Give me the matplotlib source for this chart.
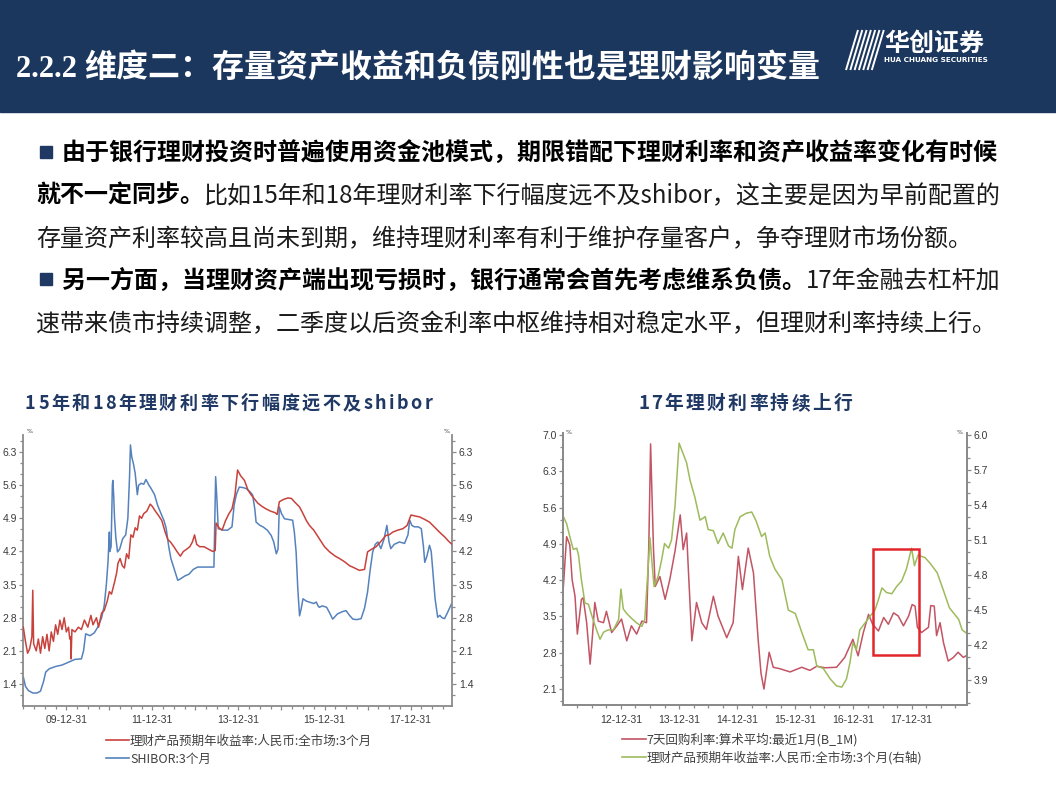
import matplotlib
matplotlib.use('Agg')
import matplotlib.pyplot as plt
from matplotlib.ticker import MultipleLocator
from matplotlib.patches import Rectangle

# ---------------- data ----------------
# left chart: decimal years
L_RED_T = [2009.00, 2009.05, 2009.10, 2009.15, 2009.20, 2009.22, 2009.24, 2009.30, 2009.35, 2009.40,
           2009.45, 2009.50, 2009.55, 2009.60, 2009.65, 2009.70, 2009.75, 2009.80, 2009.85, 2009.90,
           2009.95, 2010.00, 2010.05, 2010.08, 2010.10, 2010.11, 2010.13, 2010.20, 2010.28, 2010.35,
           2010.42, 2010.50, 2010.57, 2010.62, 2010.70, 2010.75, 2010.82, 2010.88, 2010.95, 2011.00,
           2011.05, 2011.12, 2011.17, 2011.20, 2011.25, 2011.30, 2011.35, 2011.40, 2011.45, 2011.50,
           2011.55, 2011.60, 2011.65, 2011.70, 2011.75, 2011.80, 2011.87, 2011.95, 2012.00, 2012.07,
           2012.15, 2012.22, 2012.30, 2012.36, 2012.42, 2012.50, 2012.57, 2012.65, 2012.72, 2012.80,
           2012.87, 2012.93, 2012.98, 2013.03, 2013.10, 2013.20, 2013.30, 2013.40, 2013.46, 2013.48,
           2013.55, 2013.62, 2013.70, 2013.78, 2013.85, 2013.92, 2013.98, 2014.05, 2014.14, 2014.22,
           2014.30, 2014.38, 2014.45, 2014.55, 2014.64, 2014.75, 2014.85, 2014.90, 2014.95, 2015.05,
           2015.15, 2015.23, 2015.30, 2015.42, 2015.50, 2015.58, 2015.65, 2015.75, 2015.88, 2016.00,
           2016.12, 2016.25, 2016.35, 2016.47, 2016.58, 2016.70, 2016.81, 2016.93, 2017.00, 2017.10,
           2017.20, 2017.30, 2017.43, 2017.50, 2017.59, 2017.70, 2017.82, 2017.92, 2018.01, 2018.10,
           2018.21, 2018.32, 2018.44, 2018.55, 2018.67, 2018.80, 2018.88, 2018.95]
L_RED_V = [2.60, 2.30, 2.05, 2.15, 2.40, 3.38, 2.25, 2.10, 2.35, 2.05,
           2.40, 2.15, 2.45, 2.10, 2.50, 2.30, 2.65, 2.45, 2.75, 2.55,
           2.80, 2.50, 2.60, 2.35, 2.40, 1.93, 2.55, 2.50, 2.60, 2.55,
           2.75, 2.60, 2.85, 2.65, 2.80, 2.60, 2.90, 2.95, 3.15, 3.35,
           3.30, 3.55, 3.75, 3.95, 4.05, 3.90, 3.85, 4.15, 4.05, 4.55,
           4.50, 4.70, 4.65, 4.95, 4.90, 5.00, 5.05, 5.20, 5.15, 5.05,
           4.95, 4.85, 4.60, 4.45, 4.40, 4.30, 4.20, 4.10, 4.20, 4.25,
           4.30, 4.40, 4.55, 4.35, 4.30, 4.30, 4.25, 4.20, 4.22, 4.80,
           4.70, 4.65, 4.85, 5.00, 5.10, 5.40, 5.92, 5.80, 5.70, 5.50,
           5.39, 5.30, 5.22, 5.15, 5.10, 5.05, 5.02, 4.98, 5.25, 5.30,
           5.33, 5.32, 5.25, 5.14, 5.00, 4.85, 4.75, 4.65, 4.47, 4.30,
           4.19, 4.10, 4.05, 3.98, 3.90, 3.85, 3.80, 3.82, 4.19, 4.25,
           4.30, 4.40, 4.54, 4.55, 4.61, 4.65, 4.68, 4.75, 4.97, 4.95,
           4.93, 4.88, 4.82, 4.72, 4.61, 4.50, 4.42, 4.36]

L_BLUE_T = [2009.00, 2009.05, 2009.12, 2009.22, 2009.32, 2009.40, 2009.47, 2009.52, 2009.60, 2009.75,
            2009.90, 2010.05, 2010.20, 2010.35, 2010.40, 2010.45, 2010.55, 2010.65, 2010.73, 2010.82,
            2010.88, 2010.93, 2010.97, 2011.00, 2011.01, 2011.04, 2011.07, 2011.08, 2011.10, 2011.12,
            2011.15, 2011.19, 2011.24, 2011.31, 2011.38, 2011.43, 2011.47, 2011.49, 2011.52, 2011.56,
            2011.60, 2011.65, 2011.68, 2011.74, 2011.80, 2011.85, 2011.92, 2011.97, 2012.05, 2012.12,
            2012.20, 2012.27, 2012.32, 2012.38, 2012.43, 2012.50, 2012.59, 2012.65, 2012.75, 2012.85,
            2012.95, 2013.05, 2013.43, 2013.45, 2013.47, 2013.50, 2013.53, 2013.65, 2013.75, 2013.85,
            2013.90, 2013.95, 2014.02, 2014.10, 2014.18, 2014.28, 2014.33, 2014.38, 2014.41, 2014.50,
            2014.57, 2014.67, 2014.76, 2014.82, 2014.88, 2014.92, 2014.95, 2015.00, 2015.07, 2015.20,
            2015.26, 2015.30, 2015.34, 2015.38, 2015.42, 2015.46, 2015.50, 2015.58, 2015.65, 2015.75,
            2015.81, 2015.85, 2015.88, 2015.95, 2016.05, 2016.12, 2016.19, 2016.30, 2016.42, 2016.50,
            2016.58, 2016.66, 2016.75, 2016.85, 2016.93, 2017.00, 2017.06, 2017.12, 2017.18, 2017.24,
            2017.31, 2017.38, 2017.45, 2017.50, 2017.54, 2017.62, 2017.74, 2017.86, 2017.94, 2017.98,
            2018.03, 2018.09, 2018.18, 2018.25, 2018.30, 2018.33, 2018.38, 2018.44, 2018.48, 2018.52,
            2018.57, 2018.63, 2018.68, 2018.73, 2018.79, 2018.88, 2018.95]
L_BLUE_V = [1.55, 1.35, 1.26, 1.21, 1.21, 1.25, 1.45, 1.65, 1.72, 1.77,
            1.80, 1.86, 1.92, 1.93, 2.10, 2.46, 2.42, 2.48, 2.60, 2.80,
            3.05, 3.50, 4.00, 4.61, 4.20, 4.30, 5.60, 5.70, 5.40, 4.90,
            4.50, 4.19, 4.25, 4.47, 4.55, 4.90, 5.80, 6.45, 6.20, 6.05,
            5.85, 5.40, 5.60, 5.64, 5.62, 5.72, 5.60, 5.53, 5.40, 5.18,
            5.00, 4.85, 4.69, 4.30, 4.05, 3.85, 3.59, 3.62, 3.68, 3.72,
            3.82, 3.87, 3.87, 4.80, 5.78, 5.30, 4.68, 4.65, 4.65, 4.72,
            5.18, 5.40, 5.56, 5.55, 5.53, 5.45, 5.39, 5.10, 4.82, 4.75,
            4.72, 4.65, 4.54, 4.40, 4.15, 4.25, 5.14, 5.00, 4.89, 4.87,
            4.86, 4.60, 4.19, 3.40, 2.84, 3.00, 3.20, 3.15, 3.13, 3.10,
            3.13, 3.05, 3.02, 3.05, 3.02, 2.90, 2.77, 2.88, 2.93, 2.95,
            2.85, 2.77, 2.76, 2.78, 3.00, 3.34, 3.80, 4.19, 4.35, 4.40,
            4.26, 4.45, 4.75, 4.40, 4.26, 4.35, 4.40, 4.37, 4.55, 4.86,
            4.75, 4.72, 4.72, 4.68, 4.30, 3.97, 4.10, 4.33, 4.20, 3.76,
            3.20, 2.81, 2.85, 2.80, 2.78, 2.95, 3.09]

# right chart
R_RED_T = [2012.01, 2012.065, 2012.12, 2012.16, 2012.21, 2012.25, 2012.32, 2012.35, 2012.41, 2012.47,
           2012.51, 2012.55, 2012.61, 2012.70, 2012.75, 2012.84, 2012.93, 2013.01, 2013.10, 2013.18,
           2013.27, 2013.36, 2013.44, 2013.48, 2013.51, 2013.56, 2013.59, 2013.67, 2013.76, 2013.84,
           2013.93, 2014.02, 2014.07, 2014.13, 2014.16, 2014.22, 2014.30, 2014.39, 2014.47, 2014.59,
           2014.67, 2014.82, 2014.93, 2015.02, 2015.09, 2015.19, 2015.28, 2015.36, 2015.41, 2015.46,
           2015.55, 2015.62, 2015.74, 2015.91, 2016.11, 2016.25, 2016.37, 2016.51, 2016.71, 2016.85,
           2016.99, 2017.08, 2017.17, 2017.26, 2017.33, 2017.43, 2017.52, 2017.60, 2017.69, 2017.77,
           2017.86, 2017.95, 2018.01, 2018.06, 2018.10, 2018.17, 2018.29, 2018.33, 2018.39, 2018.43,
           2018.49, 2018.55, 2018.63, 2018.72, 2018.80, 2018.89, 2018.95]
R_RED_V = [4.08, 5.04, 4.88, 4.21, 3.89, 3.16, 3.83, 3.86, 3.38, 2.58,
           3.13, 3.77, 3.41, 3.38, 3.60, 3.19, 3.32, 3.45, 3.03, 3.32,
           3.16, 3.41, 3.38, 4.90, 6.83, 4.79, 4.08, 4.27, 3.83, 4.21,
           4.76, 5.46, 4.79, 5.11, 4.40, 3.03, 3.77, 3.38, 3.25, 3.89,
           3.51, 3.09, 3.38, 4.66, 4.02, 4.82, 4.34, 3.06, 2.40, 2.10,
           2.81, 2.52, 2.49, 2.43, 2.52, 2.46, 2.54, 2.51, 2.52, 2.71,
           3.06, 2.74, 3.19, 3.54, 3.35, 3.22, 3.48, 3.35, 3.57, 3.51,
           3.32, 3.51, 3.73, 3.70, 3.29, 3.19, 3.29, 3.71, 3.70, 3.13,
           3.38, 2.99, 2.64, 2.71, 2.81, 2.71, 2.75]

R_GREEN_T = [2012.01, 2012.065, 2012.12, 2012.18, 2012.24, 2012.27, 2012.32, 2012.38, 2012.44, 2012.50,
             2012.58, 2012.64, 2012.70, 2012.78, 2012.87, 2012.96, 2013.00, 2013.04, 2013.10, 2013.18,
             2013.27, 2013.36, 2013.41, 2013.50, 2013.54, 2013.57, 2013.64, 2013.70, 2013.75, 2013.82,
             2013.87, 2013.93, 2014.00, 2014.07, 2014.13, 2014.19, 2014.27, 2014.36, 2014.45, 2014.50,
             2014.59, 2014.67, 2014.76, 2014.85, 2014.91, 2014.96, 2015.05, 2015.16, 2015.25, 2015.32,
             2015.42, 2015.48, 2015.56, 2015.65, 2015.77, 2015.88, 2016.00, 2016.11, 2016.22, 2016.31,
             2016.37, 2016.48, 2016.60, 2016.71, 2016.80, 2016.88, 2016.94, 2016.99, 2017.05, 2017.11,
             2017.20, 2017.29, 2017.37, 2017.43, 2017.49, 2017.57, 2017.66, 2017.74, 2017.83, 2017.91,
             2018.00, 2018.05, 2018.11, 2018.23, 2018.32, 2018.44, 2018.54, 2018.65, 2018.73, 2018.81,
             2018.87, 2018.95]
R_GREEN_V = [5.30, 5.24, 5.13, 5.02, 5.03, 4.97, 4.76, 4.56, 4.55, 4.45,
             4.33, 4.25, 4.31, 4.33, 4.33, 4.42, 4.68, 4.51, 4.47, 4.43,
             4.39, 4.36, 4.42, 5.12, 4.87, 4.70, 4.79, 4.93, 5.07, 5.03,
             5.10, 5.39, 5.93, 5.84, 5.76, 5.61, 5.47, 5.27, 5.30, 5.19,
             5.18, 5.07, 5.16, 5.05, 5.03, 5.19, 5.30, 5.33, 5.34, 5.27,
             5.13, 5.16, 4.96, 4.85, 4.76, 4.50, 4.47, 4.31, 4.16, 4.16,
             4.02, 4.00, 3.91, 3.85, 3.84, 3.91, 4.05, 4.22, 4.16, 4.33,
             4.39, 4.45, 4.50, 4.59, 4.69, 4.65, 4.64, 4.70, 4.75, 4.85,
             5.03, 4.88, 4.97, 4.95, 4.90, 4.82, 4.68, 4.52, 4.47, 4.42,
             4.33, 4.30]

# highlight box (x from, x to, right-axis y from, y to)
BOX_T = [2017.33, 2018.12]
BOX_V = [4.115, 5.02]

L_YTICKS = [1.4, 2.1, 2.8, 3.5, 4.2, 4.9, 5.6, 6.3]
L_XTICKS = [2010, 2011, 2012, 2013, 2014, 2015, 2016, 2017, 2018]
L_XLABELS = ['09-12-31', '', '11-12-31', '', '13-12-31', '', '15-12-31', '', '17-12-31']
R_YTICKS = [2.1, 2.8, 3.5, 4.2, 4.9, 5.6, 6.3, 7.0]
R_Y2TICKS = [3.9, 4.2, 4.5, 4.8, 5.1, 5.4, 5.7, 6.0]
R_XTICKS = [2013, 2014, 2015, 2016, 2017, 2018]
R_XLABELS = ['12-12-31', '13-12-31', '14-12-31', '15-12-31', '16-12-31', '17-12-31']

TITLE_NUM = '2.2.2 '
TITLE_TXT = '维度二：存量资产收益和负债刚性也是理财影响变量'
L_TITLE = '15年和18年理财利率下行幅度远不及shibor'
R_TITLE = '17年理财利率持续上行'
L_LEG = ['理财产品预期年收益率:人民币:全市场:3个月', 'SHIBOR:3个月']
R_LEG = ['7天回购利率:算术平均:最近1月(B_1M)', '理财产品预期年收益率:人民币:全市场:3个月(右轴)']

# ---------------- figure ----------------
W, H = 1056, 792
CJK = ['Noto Sans CJK SC', 'DejaVu Sans']
plt.rcParams['font.family'] = CJK

NAVY = '#1c375e'
C_LRED = '#c8423c'
C_LBLUE = '#5582bd'
C_RRED = '#c25463'
C_GREEN = '#9dbb5c'
SPINE = '#8a8a8a'

fig = plt.figure(figsize=(W / 100, H / 100), dpi=100)
bg = fig.add_axes([0, 0, 1, 1])
bg.set_xlim(0, W)
bg.set_ylim(H, 0)
bg.axis('off')
renderer = fig.canvas.get_renderer()

bg.add_patch(Rectangle((0, 0), W, 112, color=NAVY, zorder=0))


def seq(x, y, pieces, track=0.0):
    for s, weight, color, fam, size in pieces:
        chunks = list(s) if track else [s]
        for ch in chunks:
            t = bg.text(x, y, ch, fontsize=size, fontweight=weight, color=color,
                        family=fam, va='baseline', ha='left')
            x += t.get_window_extent(renderer).width + track
    return x


def fit(x0, x1, y, pieces):
    n = sum(len(p[0]) for p in pieces)
    nat = 0
    for s, weight, color, fam, size in pieces:
        for ch in s:
            t = bg.text(0, 0, ch, fontsize=size, fontweight=weight, family=fam)
            nat += t.get_window_extent(renderer).width
            t.remove()
    track = (x1 - x0 - nat) / max(n - 1, 1)
    seq(x0, y, pieces, track=track)


# title
seq(16, 77, [(TITLE_NUM, 'bold', 'white', ['Liberation Serif'], 22),
             (TITLE_TXT, 'bold', 'white', CJK, 23)])

# logo
for i in range(7):
    x0 = 846 + i * 4.3
    bg.plot([x0, x0 + 12], [70, 30], color='white', lw=1.4, solid_capstyle='butt')
bg.text(884, 51, '华创证券', fontsize=18, fontweight='bold', color='white', family=CJK, va='baseline')
bg.text(884, 61.5, 'HUA CHUANG SECURITIES', fontsize=5.2, fontweight='bold', color='white',
        family=['DejaVu Sans'], va='baseline')

# body text
BS = 17.3
BLK = '#000000'
TXT = '#1a1a1a'
for yc in (152, 279):
    bg.add_patch(Rectangle((40, yc - 6), 12, 12, color='#1f3864'))
seq(62, 161, [('由于银行理财投资时普遍使用资金池模式，期限错配下理财利率和资产收益率变化有时候', 'bold', BLK, CJK, BS)])
seq(36, 203, [('就不一定同步。', 'bold', BLK, CJK, BS),
              ('比如15年和18年理财利率下行幅度远不及shibor，这主要是因为早前配置的', 'normal', TXT, CJK, BS)])
seq(36, 246, [('存量资产利率较高且尚未到期，维持理财利率有利于维护存量客户，争夺理财市场份额。', 'normal', TXT, CJK, BS)])
seq(62, 288, [('另一方面，当理财资产端出现亏损时，银行通常会首先考虑维系负债。', 'bold', BLK, CJK, BS),
              ('17年金融去杠杆加', 'normal', TXT, CJK, BS)])
seq(36, 331, [('速带来债市持续调整，二季度以后资金利率中枢维持相对稳定水平，但理财利率持续上行。', 'normal', TXT, CJK, BS)])

# chart titles
fit(25, 432, 409, [(L_TITLE, 'bold', '#1f3864', CJK, 13)])
fit(638, 852, 409, [(R_TITLE, 'bold', '#1f3864', CJK, 13.5)])


def style(ax):
    for s in ['left', 'bottom', 'right']:
        ax.spines[s].set_color(SPINE)
        ax.spines[s].set_linewidth(1.3)
    ax.spines['top'].set_visible(False)
    ax.tick_params(which='both', direction='out', color=SPINE, width=0.9,
                   labelsize=7.5, labelcolor='#3a3a3a')
    ax.tick_params(which='major', length=3.2, pad=1.5)
    ax.tick_params(which='minor', length=2.0)
    for lab in ax.get_xticklabels() + ax.get_yticklabels():
        lab.set_family(['Liberation Sans'])
    ax.set_facecolor('none')


# ---- left chart ----
ax1 = fig.add_axes([23.3 / W, 1 - 706 / H, 429 / W, 271 / H])
ax1.plot(L_RED_T, L_RED_V, color=C_LRED, lw=1.1, zorder=3)
ax1.plot(L_BLUE_T, L_BLUE_V, color=C_LBLUE, lw=1.1, zorder=2)
ax1.set_xlim(2009.0, 2018.97)
ax1.set_ylim(0.935, 6.66)
ax1.set_yticks(L_YTICKS)
ax1.set_yticklabels([f'{v:.1f}' for v in L_YTICKS])
ax1.yaxis.set_minor_locator(MultipleLocator(0.7 / 3))
ax1.set_xticks(L_XTICKS)
ax1.set_xticklabels(L_XLABELS)
ax1.xaxis.set_minor_locator(MultipleLocator(0.25))
ax1.tick_params(axis='y', which='both', left=True, right=True, labelleft=True, labelright=True)
style(ax1)
ax1.tick_params(axis='x', which='major', pad=3)
bg.text(27, 433, '%', fontsize=4.5, color='#3a3a3a', family=['DejaVu Sans'])
bg.text(444, 433, '%', fontsize=4.5, color='#3a3a3a', family=['DejaVu Sans'])

# ---- right chart ----
ax2 = fig.add_axes([563.4 / W, 1 - 705.3 / H, 403.4 / W, 272.3 / H])
ax2.plot(R_RED_T, R_RED_V, color=C_RRED, lw=1.1, zorder=2)
ax2.set_xlim(2012.01, 2018.95)
ax2.set_ylim(1.786, 7.04)
ax2.set_yticks(R_YTICKS)
ax2.set_yticklabels([f'{v:.1f}' for v in R_YTICKS])
ax2.yaxis.set_minor_locator(MultipleLocator(0.7 / 3))
ax2.set_xticks(R_XTICKS)
ax2.set_xticklabels(R_XLABELS)
ax2.xaxis.set_minor_locator(MultipleLocator(0.25))
ax2.tick_params(axis='y', which='both', right=False)
style(ax2)
ax2.tick_params(axis='x', which='major', pad=3.5)

ax2r = ax2.twinx()
ax2r.plot(R_GREEN_T, R_GREEN_V, color=C_GREEN, lw=1.1)
ax2r.set_ylim(3.684, 6.017)
ax2r.set_yticks(R_Y2TICKS)
ax2r.set_yticklabels([f'{v:.1f}' for v in R_Y2TICKS])
ax2r.yaxis.set_minor_locator(MultipleLocator(0.1))
style(ax2r)
ax2r.add_patch(Rectangle((BOX_T[0], BOX_V[0]), BOX_T[1] - BOX_T[0], BOX_V[1] - BOX_V[0],
                         fill=False, edgecolor='#e3262b', lw=1.8, zorder=5))
bg.text(566, 434, '%', fontsize=4.5, color='#3a3a3a', family=['DejaVu Sans'])
bg.text(957, 434, '%', fontsize=4.5, color='#3a3a3a', family=['DejaVu Sans'])

# legends
LS = 9
bg.plot([106, 129], [740, 740], color=C_LRED, lw=1.2)
bg.plot([106, 129], [758, 758], color=C_LBLUE, lw=1.2)
bg.text(130, 744.5, L_LEG[0], fontsize=LS, color='#404040', family=CJK, va='baseline')
bg.text(130, 762.5, L_LEG[1], fontsize=LS, color='#404040', family=CJK, va='baseline')
bg.plot([622, 646], [739, 739], color=C_RRED, lw=1.2)
bg.plot([622, 646], [757, 757], color=C_GREEN, lw=1.2)
bg.text(646.5, 743.5, R_LEG[0], fontsize=LS, color='#404040', family=CJK, va='baseline')
bg.text(646.5, 761.5, R_LEG[1], fontsize=LS, color='#404040', family=CJK, va='baseline')

fig.savefig('out.png', dpi=100)
